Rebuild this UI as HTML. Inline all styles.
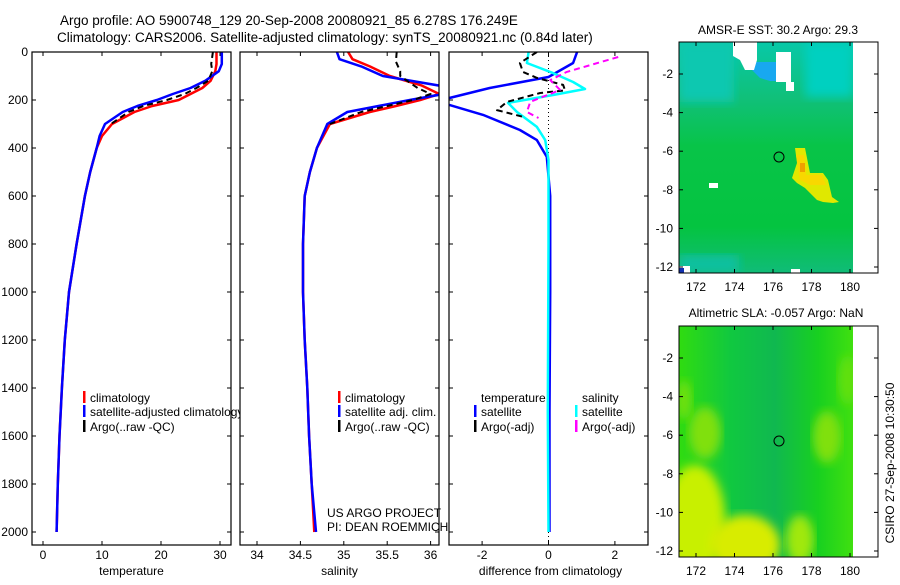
<!DOCTYPE html>
<html><head><meta charset="utf-8">
<style>
body{margin:0;background:#fff;}
svg text{font-family:"Liberation Sans",sans-serif;fill:#000;}
</style></head>
<body>
<svg id="fig" width="900" height="580" viewBox="0 0 900 580" xmlns="http://www.w3.org/2000/svg">
<rect width="900" height="580" fill="#fff"/>
<text x="60" y="25" font-size="13.5">Argo profile: AO 5900748_129 20-Sep-2008 20080921_85 6.278S 176.249E</text>
<text x="57" y="42" font-size="13.5">Climatology: CARS2006. Satellite-adjusted climatology: synTS_20080921.nc (0.84d later)</text>
<g id="panels"></g>

<defs>
<linearGradient id="gSST" x1="0" y1="0" x2="0" y2="1">
<stop offset="0" stop-color="#08c8a8"/><stop offset="0.25" stop-color="#10c078"/><stop offset="0.45" stop-color="#08c448"/><stop offset="0.8" stop-color="#04c440"/><stop offset="1" stop-color="#10bc78"/>
</linearGradient>
<linearGradient id="gSLA" x1="0" y1="0" x2="1" y2="0">
<stop offset="0" stop-color="#30dc10"/><stop offset="0.3" stop-color="#10c840"/><stop offset="0.55" stop-color="#10b850"/><stop offset="0.8" stop-color="#18d020"/><stop offset="1" stop-color="#40e010"/>
</linearGradient>
<filter id="bl"><feGaussianBlur stdDeviation="5"/></filter>
<clipPath id="cTop"><rect x="679" y="42" width="174" height="231"/></clipPath>
<clipPath id="cBot"><rect x="679" y="326" width="174" height="231"/></clipPath>
</defs>

<!-- SST map -->
<g>
<text x="778" y="34" font-size="12" text-anchor="middle">AMSR-E SST: 30.2 Argo: 29.3</text>
<rect x="679" y="42" width="174" height="231" fill="url(#gSST)"/>
<g clip-path="url(#cTop)">
<rect x="679" y="42" width="55" height="60" fill="#10c8b0" filter="url(#bl)"/>
<rect x="805" y="42" width="48" height="55" fill="#00d0c0" filter="url(#bl)"/>
<rect x="679" y="255" width="60" height="18" fill="#10c0a0" filter="url(#bl)"/>
<polygon points="752,62 786,62 786,81 770,81 760,78 752,70" fill="#18a8f0"/>
<rect x="776" y="67" width="10" height="14" fill="#1050d0"/>
<polygon points="733,42 757,42 757,60 754,70 745,70 740,60 733,56" fill="#fff"/>
<rect x="776" y="52" width="15" height="30" fill="#fff"/>
<rect x="786" y="82" width="8" height="9" fill="#fff"/>
<polygon points="795,148 805,148 810,173 823,173 828,180 832,197 839,202 833,203 823,202 817,200 810,193 805,188 797,183 792,178 797,163" fill="#e0e800"/>
<polygon points="796,155 804,155 806,175 822,175 826,185 810,185 800,180" fill="#f8d800"/>
<rect x="800" y="163" width="5" height="9" fill="#f0a000"/>
<rect x="709" y="183" width="9" height="5" fill="#fff"/>
<rect x="679" y="266" width="11" height="7" fill="#fff"/>
<rect x="679" y="268" width="5" height="5" fill="#1030b0"/>
<rect x="791" y="269" width="9" height="4" fill="#fff"/>
</g>
<rect x="853" y="42" width="25" height="231" fill="#fff"/>
<circle cx="779" cy="157" r="5" fill="none" stroke="#000" stroke-width="1"/>
<rect x="679" y="42" width="199" height="231" fill="none" stroke="#000" stroke-width="1"/>
<g id="sstTicks"></g>
</g>

<!-- SLA map -->
<g>
<text x="776" y="317" font-size="12" text-anchor="middle">Altimetric SLA: -0.057 Argo: NaN</text>
<rect x="679" y="326" width="174" height="231" fill="url(#gSLA)"/>
<g clip-path="url(#cBot)">
<ellipse cx="705" cy="433" rx="16" ry="26" fill="#80e010" filter="url(#bl)"/>
<ellipse cx="827" cy="437" rx="14" ry="26" fill="#80e010" filter="url(#bl)"/>
<ellipse cx="848" cy="380" rx="10" ry="25" fill="#60e010" filter="url(#bl)"/>
<ellipse cx="684" cy="400" rx="8" ry="20" fill="#70e010" filter="url(#bl)"/>
<ellipse cx="695" cy="520" rx="30" ry="55" fill="#c8f000" filter="url(#bl)"/>
<ellipse cx="745" cy="545" rx="35" ry="30" fill="#d8ec00" filter="url(#bl)"/>
<ellipse cx="800" cy="540" rx="14" ry="25" fill="#a0e810" filter="url(#bl)"/>
</g>
<rect x="853" y="326" width="25" height="231" fill="#fff"/>
<circle cx="779" cy="441" r="5" fill="none" stroke="#000" stroke-width="1"/>
<rect x="679" y="326" width="199" height="231" fill="none" stroke="#000" stroke-width="1"/>
<g id="slaTicks"></g>
</g>
<text x="0" y="0" font-size="12" text-anchor="middle" transform="translate(894,463) rotate(-90)">CSIRO 27-Sep-2008 10:30:50</text>
</svg>
<script>
// ---- data ----
const tDepth = [0,50,80,120,150,175,200,225,250,300,350,400,500,600,800,1000,1200,1400,1600,1800,2000];
const tClim  = [29.4,29.4,29.2,28.4,27,25,23,18.5,15.5,11.7,10,9.1,8.0,7.1,5.7,4.4,3.7,3.2,2.8,2.5,2.3];
const tSat   = [30.3,30.3,29.8,27.5,25,22,19.3,16,13.5,10.5,9.6,9.1,8.0,7.1,5.7,4.4,3.7,3.2,2.8,2.5,2.3];
const tArgoDepth = [0,50,80,120,150,175,200,225,250,300];
const tArgo  = [28.8,28.5,28.7,28,26,24,21,17,14.5,11.5];
const sDepth = [0,30,60,100,140,175,200,225,250,300,400,500,600,800,1000,1200,1400,1600,1800,2000];
const sClim  = [35.05,35.1,35.3,35.53,35.9,36.1,35.88,35.6,35.3,34.84,34.69,34.61,34.55,34.53,34.53,34.55,34.58,34.6,34.63,34.66];
const sSat   = [34.92,34.95,35.2,35.45,36.1,36.15,35.76,35.4,35.04,34.81,34.69,34.61,34.55,34.53,34.53,34.55,34.58,34.6,34.63,34.68];
const sArgoDepth = [0,40,80,100,150,175,200,250,300];
const sArgo  = [35.61,35.6,35.65,35.65,35.85,36.0,35.8,35.2,34.84];
const dTDepth = [0,46,104,150,192,205,220,262,325,367,437,600,1000,1500,2000];
const dTSat   = [0.86,0.74,0,-1.77,-3.0,-3.6,-3.0,-1.97,-0.86,-0.35,-0.05,0.05,0.05,0.03,0.03];
const dSDepth = [0,46,88,125,154,179,212,250,312,367,450,800,1500,2000];
const dSSat   = [-0.6,-0.65,0.14,0.74,1.1,0.14,-1.22,-0.95,-0.35,-0.1,0,0,-0.02,0];
const dTArgoDepth = [0,46,83,108,137,160,171,208,242,270];
const dTArgo  = [-0.35,-0.86,-0.77,-0.35,0.44,0.5,-0.25,-1.25,-1.55,-0.77];
const dSArgoDepth = [21,83,117,158,208,250,275];
const dSArgo  = [2.1,0.55,0.05,0.35,-0.55,-0.65,-0.3];
const depthTicks = [0,200,400,600,800,1000,1200,1400,1600,1800,2000];
const tTicks = [0,10,20,30];
const sTicks = [34,34.5,35,35.5,36];
const sTickLabels = ['34','34.5','35','35.5','36'];
const dTicks = [-2,0,2];
const lonTicks = [172,174,176,178,180];
const latTicks = [-2,-4,-6,-8,-10,-12];

const NS='http://www.w3.org/2000/svg';
const top0=52, bot=545;
const yD = d => top0 + d*0.24;
const xT = v => 43 + v*5.9;
const xS = v => 257 + (v-34)*86.8;
const xDf = v => 548.5 + v*33.2;
const root=document.getElementById('panels');
function mk(tag,attrs,parent){const e=document.createElementNS(NS,tag);for(const k in attrs)e.setAttribute(k,attrs[k]);(parent||root).appendChild(e);return e;}
function txt(s,x,y,anchor,parent){const t=mk('text',{x:x,y:y,'font-size':12,'text-anchor':anchor||'start'},parent);t.textContent=s;return t;}

const panels=[{id:'temp',x0:32,x1:231,xf:xT,ticks:tTicks,labels:tTicks.map(String),title:'temperature'},
 {id:'sal',x0:240,x1:439,xf:xS,ticks:sTicks,labels:sTickLabels,title:'salinity'},
 {id:'diff',x0:449,x1:648,xf:xDf,ticks:dTicks,labels:dTicks.map(String),title:'difference from climatology'}];

panels.forEach((p,i)=>{
  const g=mk('g',{});
  
  
  mk('rect',{x:p.x0,y:top0,width:p.x1-p.x0,height:bot-top0,fill:'#fff'},g);
  const cp=mk('clipPath',{id:'clip'+i},g);
  mk('rect',{x:p.x0,y:top0,width:p.x1-p.x0,height:bot-top0},cp);
  p.g=g; p.clip='url(#clip'+i+')';
  p.ticks.forEach((t,j)=>{
    const x=p.xf(t);
    mk('line',{x1:x,x2:x,y1:bot,y2:bot-4,stroke:'#000'},g);
    mk('line',{x1:x,x2:x,y1:top0,y2:top0+4,stroke:'#000'},g);
    const l=txt(p.labels[j],x,559,'middle',g);
    
    
  });
  depthTicks.forEach(d=>{
    const y=yD(d);
    mk('line',{x1:p.x0,x2:p.x0+4,y1:y,y2:y,stroke:'#000'},g);
    mk('line',{x1:p.x1,x2:p.x1-4,y1:y,y2:y,stroke:'#000'},g);
    if(i===0){const l=txt(String(d),28,y+4,'end',g);
      
      }
  });
  const tt=txt(p.title,(p.x0+p.x1)/2+(i==2?2:0),575,'middle',g);
  
  
});

function line(p,depths,vals,color,name,dash,w){
  const pts=depths.map((d,k)=>p.xf(vals[k]).toFixed(1)+','+yD(d).toFixed(1)).join(' ');
  const e=mk('polyline',{points:pts,fill:'none',stroke:color,'stroke-width':w||2.5,'clip-path':p.clip,'stroke-linejoin':'round'},p.g);
  if(dash)e.setAttribute('stroke-dasharray',dash);
  
  
}
function legend(p,x,y,color,label,name){
  mk('rect',{x:x,y:y-11,width:2.5,height:12,fill:color},p.g);
  const t=txt(label,x+7,y,'start',p.g);
  
  
}
const [P1,P2,P3]=panels;
const z=mk('line',{x1:xDf(0),x2:xDf(0),y1:top0,y2:bot,stroke:'#000','stroke-dasharray':'1,3'},P3.g);



line(P1,tDepth,tClim,'#f00','temp-climatology-line');
line(P1,tDepth,tSat,'#00f','temp-satellite-line');
line(P1,tArgoDepth,tArgo,'#000','temp-argo-line','6,4',2);
line(P2,sDepth,sClim,'#f00','sal-climatology-line');
line(P2,sDepth,sSat,'#00f','sal-satellite-line');
line(P2,sArgoDepth,sArgo,'#000','sal-argo-line','6,4',2);
line(P3,dTDepth,dTSat,'#00f','diff-temp-satellite-line');
line(P3,dSDepth,dSSat,'#0ff','diff-sal-satellite-line');
line(P3,dTArgoDepth,dTArgo,'#000','diff-temp-argo-line','6,4',2);
line(P3,dSArgoDepth,dSArgo,'#f0f','diff-sal-argo-line','6,4',2);

legend(P1,83,402,'#f00','climatology','legend-climatology');
legend(P1,83,416,'#00f','satellite-adjusted climatology','legend-satellite-adjusted');
legend(P1,83,431,'#000','Argo(..raw -QC)','legend-argo');
root.appendChild(P2.g);
root.appendChild(P3.g);
legend(P2,338,402,'#f00','climatology','legend-sal-climatology');
legend(P2,338,416,'#00f','satellite adj. clim.','legend-sal-satellite');
legend(P2,338,431,'#000','Argo(..raw -QC)','legend-sal-argo');
const h1=txt('temperature',481,402,'start',P3.g);


const h2=txt('salinity',582,402,'start',P3.g);


legend(P3,474,416,'#00f','satellite','legend-diff-temp-satellite');
legend(P3,474,431,'#000','Argo(-adj)','legend-diff-temp-argo');
legend(P3,575,416,'#0ff','satellite','legend-diff-sal-satellite');
legend(P3,575,431,'#f0f','Argo(-adj)','legend-diff-sal-argo');
panels.forEach(p=>{mk('rect',{x:p.x0,y:top0,width:p.x1-p.x0,height:bot-top0,fill:'none',stroke:'#000','stroke-width':1.2},p.g);});
const u1=txt('US ARGO PROJECT',327,517,'start',P2.g);


const u2=txt('PI: DEAN ROEMMICH',327,531,'start',P2.g);


root.appendChild(u1);root.appendChild(u2);

function mapTicks(gid,y0,y1,latY){
  const g=document.getElementById(gid);
  const xl=v=>696+(v-172)*19.25;
  lonTicks.forEach(v=>{
    const x=xl(v);
    mk('line',{x1:x,x2:x,y1:y1,y2:y1-4,stroke:'#000'},g);
    mk('line',{x1:x,x2:x,y1:y0,y2:y0+4,stroke:'#000'},g);
    const t=txt(String(v),x,y1+18,'middle',g);
    
    
  });
  latTicks.forEach(v=>{
    const y=latY(v);
    mk('line',{x1:679,x2:683,y1:y,y2:y,stroke:'#000'},g);
    mk('line',{x1:878,x2:874,y1:y,y2:y,stroke:'#000'},g);
    const t=txt(String(v),673,y+4,'end',g);
    
    
  });
}
mapTicks('sstTicks',42,273,v=>74+(-2-v)*19.3);
mapTicks('slaTicks',326,557,v=>358+(-2-v)*19.3);
</script>
</body></html>
